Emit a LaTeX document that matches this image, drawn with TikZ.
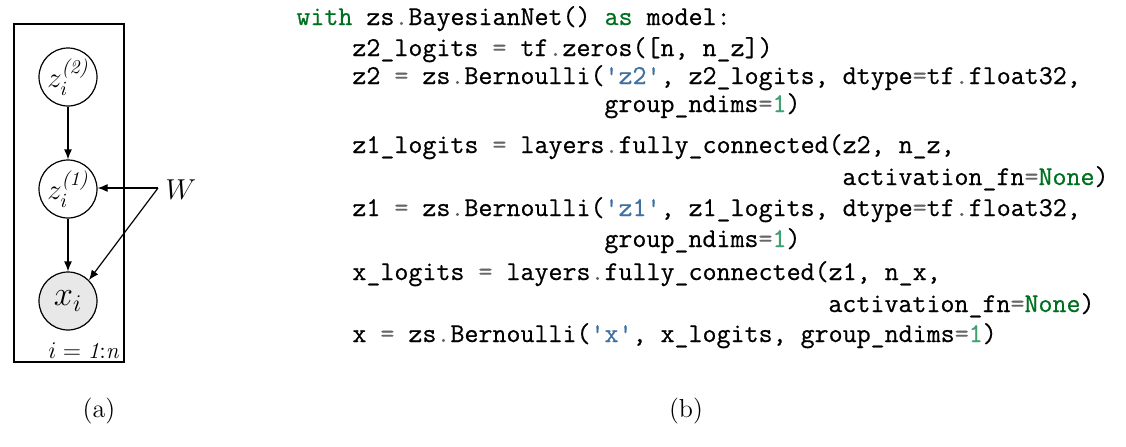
\documentclass[tikz,border=0pt]{standalone}
\usepackage{fontspec}
\setmonofont{Latin Modern Mono}[FakeBold=0.6]
\newfontfamily\codefont{Latin Modern Mono}[FakeBold=0.6]
\usepackage{amsmath}
\usetikzlibrary{arrows.meta}
\definecolor{kwgreen}{HTML}{007020}
\definecolor{strblue}{HTML}{4070A0}
\definecolor{numgreen}{HTML}{40A070}
\definecolor{opgray}{HTML}{666666}
\definecolor{obsfill}{HTML}{E8E8E8}
\newcommand\ckw[1]{\textcolor{kwgreen}{#1}}
\newcommand\cstr[1]{\textcolor{strblue}{#1}}
\newcommand\cnum[1]{\textcolor{numgreen}{#1}}
\newcommand\cop[1]{\textcolor{opgray}{#1}}
\begin{document}
\begin{tikzpicture}[x=0.5pt,y=-0.5pt,
  varnode/.style={draw,circle,line width=0.6pt,minimum size=29pt,inner sep=0pt,font=\fontsize{14}{16}\selectfont},
  obsnode/.style={varnode,fill=obsfill},
  edge/.style={line width=0.6pt,-{Latex[length=5pt,width=4pt]}},
  codeline/.style={anchor=base west,inner sep=0pt,font=\fontsize{13.6}{16}\selectfont\codefont},
  caplabel/.style={font=\fontsize{13}{15}\selectfont}]
\useasboundingbox (0,0) rectangle (1126,446);
% plate
\node[draw,line width=0.6pt,minimum width=55pt,minimum height=169pt,inner sep=0pt] (plate) at (69,193) {};
\node[anchor=base east,inner sep=0pt,font=\fontsize{11.5}{13}\selectfont] (platelab) at (119,358) {$i = \mathit{1{:}n}$};
% nodes
\node[varnode] (z2) at (68,77) {$z_i^{\textit{(2)}}$};
\node[varnode] (z1) at (68,189) {$z_i^{\textit{(1)}}$};
\node[obsnode,font=\fontsize{16.5}{18}\selectfont] (x) at (68,301) {$x_i$};
\node[font=\fontsize{14}{16}\selectfont] (W) at (181,190) {$W$};
\coordinate (Wsrc) at (158,188);
% edges
\draw[edge] (z2) -- (z1);
\draw[edge] (z1) -- (x);
\draw[edge] (Wsrc) -- (Wsrc -| z1.east);
\draw[edge] (Wsrc) -- (x.45);
% captions
\node[caplabel] (capa) at (99,411) {(a)};
\node[caplabel] (capb) at (686,411) {(b)};
% code
\node[codeline] (c1) at (296,25) {\ckw{with} zs\cop{.}BayesianNet() \ckw{as} model:};
\node[codeline] (c2) at (352,56) {z2\_logits \cop{=} tf\cop{.}zeros([n, n\_z])};
\node[codeline] (c3) at (352,84) {z2 \cop{=} zs\cop{.}Bernoulli(\cstr{'z2'}, z2\_logits, dtype\cop{=}tf\cop{.}float32,};
\node[codeline] (c4) at (604,112) {group\_ndims\cop{=}\cnum{1})};
\node[codeline] (c5) at (352,153) {z1\_logits \cop{=} layers\cop{.}fully\_connected(z2, n\_z,};
\node[codeline] (c6) at (842,185) {activation\_fn\cop{=}\ckw{None})};
\node[codeline] (c7) at (352,216) {z1 \cop{=} zs\cop{.}Bernoulli(\cstr{'z1'}, z1\_logits, dtype\cop{=}tf\cop{.}float32,};
\node[codeline] (c8) at (604,247) {group\_ndims\cop{=}\cnum{1})};
\node[codeline] (c9) at (352,280) {x\_logits \cop{=} layers\cop{.}fully\_connected(z1, n\_x,};
\node[codeline] (c10) at (828,312) {activation\_fn\cop{=}\ckw{None})};
\node[codeline] (c11) at (352,342) {x \cop{=} zs\cop{.}Bernoulli(\cstr{'x'}, x\_logits, group\_ndims\cop{=}\cnum{1})};
\end{tikzpicture}
\end{document}
